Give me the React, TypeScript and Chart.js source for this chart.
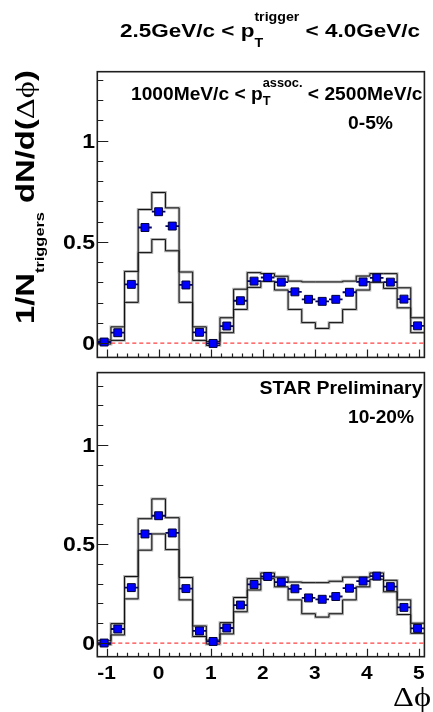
import React, { useEffect, useRef } from "react";
import { Chart, registerables } from "chart.js";

Chart.register(...registerables);

// ---------- data ----------
const DPHI = [
  -1.047, -0.785, -0.524, -0.262, 0.0, 0.262, 0.524, 0.785, 1.047, 1.309, 1.571, 1.833,
  2.094, 2.356, 2.618, 2.88, 3.142, 3.403, 3.665, 3.927, 4.189, 4.451, 4.712, 4.974,
];
const BIN_HALF_WIDTH = 0.1309;

// 0-5% panel
const TOP_Y = [
  0.005, 0.051, 0.29, 0.571, 0.649, 0.578, 0.287, 0.053, -0.002, 0.084, 0.209, 0.306,
  0.324, 0.301, 0.253, 0.216, 0.206, 0.216, 0.251, 0.302, 0.322, 0.301, 0.217, 0.085,
];
const TOP_SYS_HI = [
  0.015, 0.08, 0.354, 0.66, 0.744, 0.668, 0.351, 0.08, 0.008, 0.125, 0.266, 0.348,
  0.343, 0.33, 0.306, 0.302, 0.302, 0.302, 0.306, 0.331, 0.343, 0.343, 0.273, 0.125,
];
const TOP_SYS_LO = [
  -0.005, 0.013, 0.201, 0.447, 0.512, 0.456, 0.201, 0.013, -0.012, 0.051, 0.166, 0.275,
  0.305, 0.262, 0.166, 0.101, 0.072, 0.101, 0.166, 0.262, 0.3, 0.27, 0.174, 0.051,
];

// 10-20% panel
const BOT_Y = [
  0.0, 0.071, 0.28, 0.551, 0.643, 0.556, 0.275, 0.061, 0.008, 0.076, 0.192, 0.296,
  0.336, 0.308, 0.274, 0.228, 0.221, 0.235, 0.277, 0.313, 0.338, 0.285, 0.18, 0.074,
];
const BOT_SYS_HI = [
  0.012, 0.098, 0.336, 0.628, 0.728, 0.633, 0.331, 0.086, 0.015, 0.103, 0.23, 0.325,
  0.354, 0.333, 0.308, 0.305, 0.305, 0.312, 0.333, 0.333, 0.354, 0.317, 0.218, 0.1,
];
const BOT_SYS_LO = [
  -0.008, 0.041, 0.223, 0.469, 0.551, 0.472, 0.218, 0.033, -0.005, 0.046, 0.158, 0.268,
  0.325, 0.284, 0.218, 0.148, 0.131, 0.148, 0.218, 0.284, 0.322, 0.259, 0.144, 0.049,
];

const X_MIN = -1.178;
const X_MAX = 5.105;
const TOP_RANGE = [-0.071, 1.341];
const BOT_RANGE = [-0.069, 1.366];
const ZERO_LINE_X = [X_MIN, X_MAX];

const X_MAJOR = [-1, 0, 1, 2, 3, 4, 5];
const X_MAJOR_LABELS = ["-1", "0", "1", "2", "3", "4", "5"];
const Y_MAJOR = [0, 0.5, 1];
const Y_MAJOR_LABELS = ["0", "0.5", "1"];

const SANS = '"Liberation Sans", Arial, Helvetica, sans-serif';
const SERIF = '"Liberation Serif", "DejaVu Serif", serif';

// ---------- rich text helper ----------
type Seg = {
  t?: string;
  font?: string;
  sub?: string;
  sup?: string;
  small?: string;
  subDy?: number;
  supDy?: number;
};

function segWidth(ctx: CanvasRenderingContext2D, s: Seg) {
  if (s.t !== undefined) {
    ctx.font = s.font as string;
    return ctx.measureText(s.t).width;
  }
  ctx.font = s.small as string;
  return Math.max(
    s.sub ? ctx.measureText(s.sub).width : 0,
    s.sup ? ctx.measureText(s.sup).width : 0
  );
}

function drawRich(
  ctx: CanvasRenderingContext2D,
  segs: Seg[],
  x: number,
  y: number,
  opts: { width?: number; sx?: number; align?: "left" | "right" | "center"; rotate?: boolean }
) {
  ctx.save();
  const natural = segs.reduce((a, s) => a + segWidth(ctx, s), 0);
  const sx = opts.width ? opts.width / natural : opts.sx ?? 1;
  const total = natural * sx;
  const align = opts.align ?? "left";
  ctx.translate(x, y);
  if (opts.rotate) ctx.rotate(-Math.PI / 2);
  const start = align === "left" ? 0 : align === "right" ? -total : -total / 2;
  ctx.translate(start, 0);
  ctx.scale(sx, 1);
  ctx.textBaseline = "alphabetic";
  ctx.textAlign = "left";
  ctx.fillStyle = "#000";
  let cx = 0;
  for (const s of segs) {
    const w = segWidth(ctx, s);
    if (s.t !== undefined) {
      ctx.font = s.font as string;
      ctx.fillText(s.t, cx, 0);
    } else {
      ctx.font = s.small as string;
      if (s.sub) ctx.fillText(s.sub, cx, s.subDy ?? 0);
      if (s.sup) ctx.fillText(s.sup, cx, s.supDy ?? 0);
    }
    cx += w;
  }
  ctx.restore();
}

type TextItem = { segs: Seg[]; x: number; y: number; width?: number; sx?: number; align?: "left" | "right" | "center"; rotate?: boolean };

function makeAxesPlugin(offsetY: number, texts: TextItem[], showXLabels: boolean) {
  return {
    id: "frameAndAxes" + offsetY,
    afterDraw(chart: any) {
      const ctx: CanvasRenderingContext2D = chart.ctx;
      const { left, right, top, bottom } = chart.chartArea;
      const xs = chart.scales.x;
      const ys = chart.scales.y;
      ctx.save();
      ctx.strokeStyle = "#1e1e1e";
      ctx.lineWidth = 1.2;
      ctx.beginPath();
      for (let i = 1; i <= 13; i++) {
        const v = i / 10;
        if (Y_MAJOR.indexOf(v) >= 0) continue;
        const py = Math.round(ys.getPixelForValue(v)) + 0.5;
        ctx.moveTo(left, py);
        ctx.lineTo(left + 6, py);
      }
      for (const v of Y_MAJOR) {
        const py = Math.round(ys.getPixelForValue(v)) + 0.5;
        ctx.moveTo(left, py);
        ctx.lineTo(left + 11, py);
      }
      for (let i = -5; i <= 25; i++) {
        if (i % 5 === 0) continue;
        const px = Math.round(xs.getPixelForValue(i / 5)) + 0.5;
        ctx.moveTo(px, bottom);
        ctx.lineTo(px, bottom - 4);
      }
      for (const v of X_MAJOR) {
        const px = Math.round(xs.getPixelForValue(v)) + 0.5;
        ctx.moveTo(px, bottom);
        ctx.lineTo(px, bottom - 8);
      }
      ctx.stroke();
      ctx.lineWidth = 1.6;
      ctx.strokeRect(left, top, right - left, bottom - top);
      ctx.restore();

      Y_MAJOR.forEach((v, i) => {
        const py = ys.getPixelForValue(v);
        drawRich(ctx, [{ t: Y_MAJOR_LABELS[i], font: `bold 20px ${SANS}` }], 95, py + 7, {
          sx: 1.15,
          align: "right",
        });
      });
      if (showXLabels) {
        X_MAJOR.forEach((v, i) => {
          const px = xs.getPixelForValue(v);
          drawRich(ctx, [{ t: X_MAJOR_LABELS[i], font: `bold 19px ${SANS}` }], px, 678.5 - offsetY, {
            sx: 1.1,
            align: "center",
          });
        });
      }
      for (const t of texts) {
        drawRich(ctx, t.segs, t.x, t.y - offsetY, {
          width: t.width,
          sx: t.sx,
          align: t.align,
          rotate: t.rotate,
        });
      }
    },
  };
}

// step outline (histogram style) of a systematic band edge: points at left bin edges
function stepData(vals: number[]) {
  const pts = DPHI.map((x, i) => ({ x: x - BIN_HALF_WIDTH, y: vals[i] }));
  pts.push({ x: DPHI[DPHI.length - 1] + BIN_HALF_WIDTH, y: vals[vals.length - 1] });
  return pts;
}

function stepDataset(vals: number[], color: string, width: number, order: number) {
  return {
    type: "line",
    data: stepData(vals),
    order,
    stepped: "before",
    borderColor: color,
    borderWidth: width,
    pointRadius: 0,
    fill: false,
  };
}

function buildDatasets(vals: number[], hi: number[], lo: number[]) {
  const pts = DPHI.map((x, i) => ({ x, y: vals[i] }));
  return [
    {
      type: "scatter",
      data: pts,
      order: 0,
      pointStyle: "rect",
      pointRadius: 5.6,
      backgroundColor: "#0000ff",
      borderColor: "#00003a",
      borderWidth: 1,
    },
    {
      type: "scatter",
      data: pts,
      order: 1,
      pointStyle: "line",
      pointRadius: 6.8,
      borderColor: "#000066",
      borderWidth: 1.8,
    },
    {
      type: "line",
      data: ZERO_LINE_X.map((x) => ({ x, y: 0 })),
      order: 2,
      borderColor: "#ff4040",
      borderWidth: 1.3,
      borderDash: [4, 3],
      pointRadius: 0,
    },
    stepDataset(hi, "#111111", 1, 3),
    stepDataset(lo, "#111111", 1, 4),
    stepDataset(hi, "#b4b4b4", 2.8, 5),
    stepDataset(lo, "#b4b4b4", 2.8, 6),
  ];
}

function makeConfig(
  vals: number[],
  hi: number[],
  lo: number[],
  range: number[],
  padding: any,
  plugin: any
): any {
  return {
    type: "scatter",
    data: { datasets: buildDatasets(vals, hi, lo) },
    options: {
      animation: false,
      responsive: false,
      events: [],
      layout: { padding },
      plugins: { legend: { display: false }, tooltip: { enabled: false } },
      scales: {
        x: { type: "linear", min: X_MIN, max: X_MAX, display: false },
        y: { type: "linear", min: range[0], max: range[1], display: false },
      },
    },
    plugins: [plugin],
  };
}

const titleSegs: Seg[] = [
  { t: "2.5GeV/c < p", font: `bold 19px ${SANS}` },
  { sub: "T", sup: "trigger", small: `bold 12px ${SANS}`, subDy: 9.5, supDy: -16 },
  { t: " < 4.0GeV/c", font: `bold 19px ${SANS}` },
];
const assocSegs: Seg[] = [
  { t: "1000MeV/c < p", font: `bold 18px ${SANS}` },
  { sub: "T", sup: "assoc.", small: `bold 12px ${SANS}`, subDy: 5, supDy: -12.7 },
  { t: " < 2500MeV/c", font: `bold 18px ${SANS}` },
];
const yTitleSegs: Seg[] = [
  { t: "1/N", font: `bold 26px ${SANS}` },
  { sub: "triggers", small: `bold 13px ${SANS}`, subDy: 10 },
  { t: " dN/d(", font: `bold 26px ${SANS}` },
  { t: "Δϕ", font: `26px ${SERIF}` },
  { t: ")", font: `bold 26px ${SANS}` },
];

export default function App() {
  const topRef = useRef<HTMLCanvasElement>(null);
  const botRef = useRef<HTMLCanvasElement>(null);

  useEffect(() => {
    const topTexts: TextItem[] = [
      { segs: titleSegs, x: 120, y: 37, width: 300 },
      { segs: assocSegs, x: 131, y: 100, width: 291.5 },
      { segs: [{ t: "0-5%", font: `bold 18px ${SANS}` }], x: 348, y: 129, width: 45 },
      { segs: yTitleSegs, x: 33.5, y: 324, width: 254, rotate: true },
    ];
    const botTexts: TextItem[] = [
      { segs: [{ t: "STAR Preliminary", font: `bold 19px ${SANS}` }], x: 259.5, y: 394, width: 163 },
      { segs: [{ t: "10-20%", font: `bold 18px ${SANS}` }], x: 348, y: 423.3, width: 66 },
      { segs: [{ t: "Δϕ", font: `27px ${SERIF}` }], x: 431, y: 706, width: 38, align: "right" },
    ];

    const top = new Chart(
      topRef.current as HTMLCanvasElement,
      makeConfig(
        TOP_Y,
        TOP_SYS_HI,
        TOP_SYS_LO,
        TOP_RANGE,
        { left: 97.3, right: 1.3, top: 71.7, bottom: 2 },
        makeAxesPlugin(0, topTexts, false)
      )
    );
    const bot = new Chart(
      botRef.current as HTMLCanvasElement,
      makeConfig(
        BOT_Y,
        BOT_SYS_HI,
        BOT_SYS_LO,
        BOT_RANGE,
        { left: 97.3, right: 1.3, top: 1, bottom: 55.3 },
        makeAxesPlugin(364, botTexts, true)
      )
    );
    return () => {
      top.destroy();
      bot.destroy();
    };
  }, []);

  return (
    <div
      style={{
        position: "fixed",
        left: 0,
        top: 0,
        width: 433,
        height: 712,
        background: "#ffffff",
        overflow: "hidden",
      }}
    >
      <canvas
        ref={topRef}
        width={433}
        height={366}
        style={{ position: "absolute", left: 0, top: 0, width: 433, height: 366 }}
      />
      <canvas
        ref={botRef}
        width={433}
        height={348}
        style={{ position: "absolute", left: 0, top: 364, width: 433, height: 348 }}
      />
    </div>
  );
}
